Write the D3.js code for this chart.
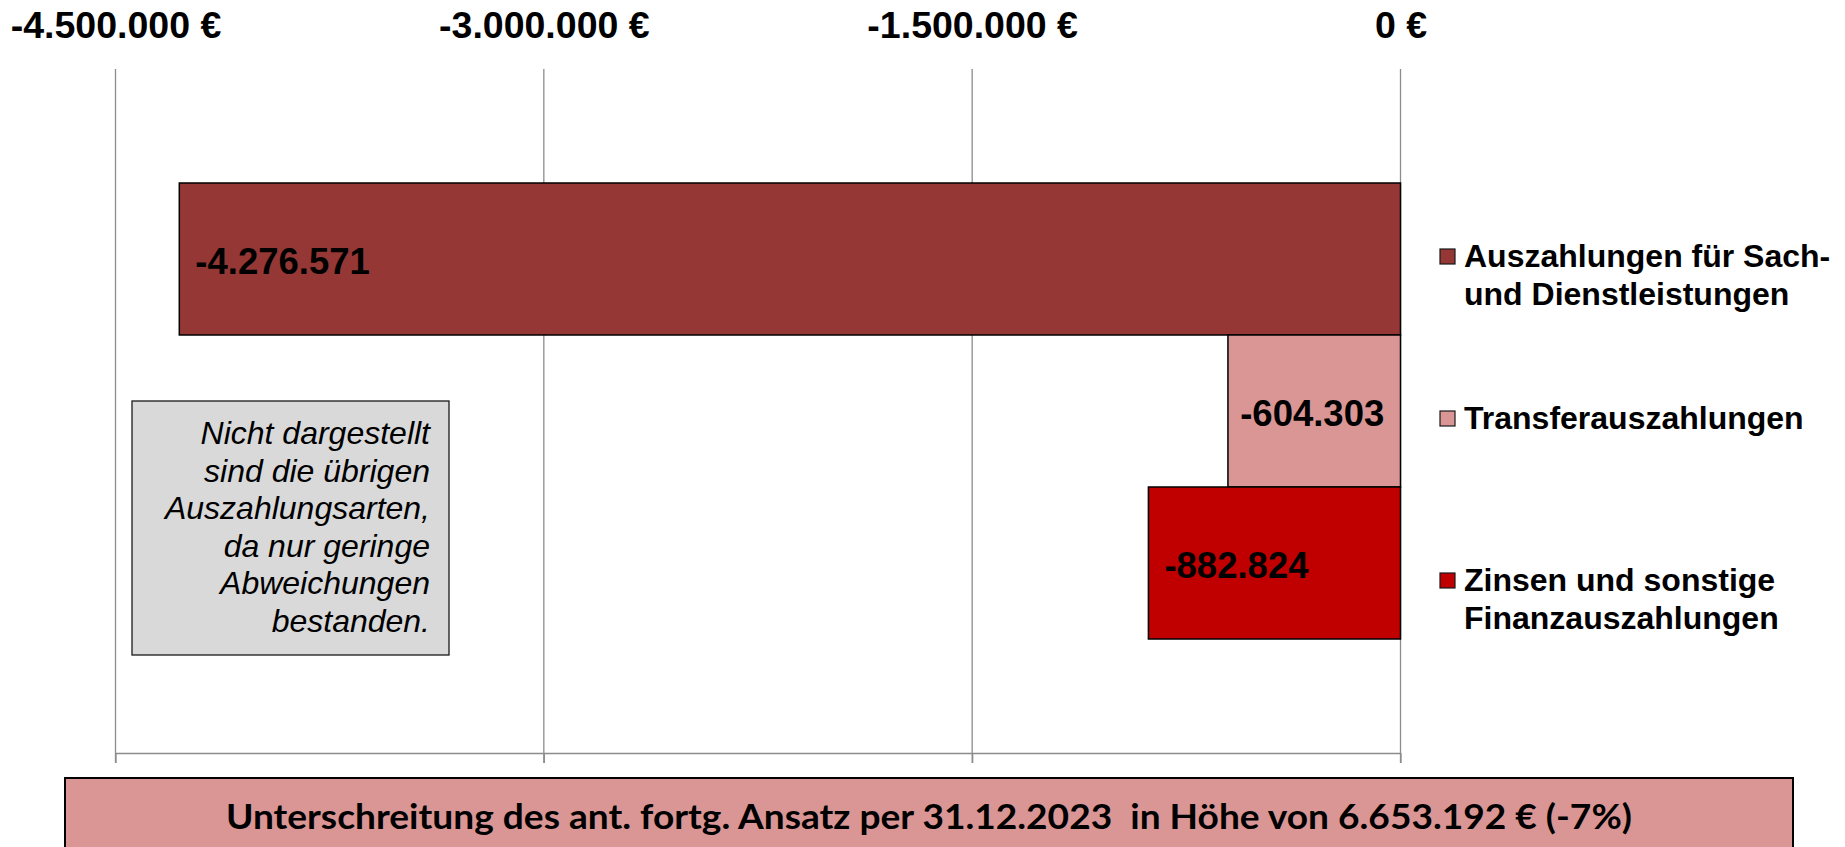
<!DOCTYPE html>
<html>
<head>
<meta charset="utf-8">
<script src="https://cdn.jsdelivr.net/npm/d3@7"></script>
<style>
  body { margin: 0; background: #fff; }
  svg { display: block; }
  .tick-label { font-family: "Liberation Sans", Arial, sans-serif; font-weight: bold; font-size: 37.5px; fill: #000; }
  .bar-label { font-family: "Liberation Sans", Arial, sans-serif; font-weight: bold; font-size: 36.5px; fill: #000; }
  .legend-text { font-family: "Liberation Sans", Arial, sans-serif; font-weight: bold; font-size: 32px; fill: #000; }
  .note-text { font-family: "Liberation Sans", Arial, sans-serif; font-style: italic; font-size: 32px; fill: #000; }
  .footer-text { font-family: Lato, "Open Sans", sans-serif; font-weight: bold; font-size: 34px; fill: #000; white-space: pre; }
</style>
</head>
<body>
<div id="chart"></div>
<script>
// Chart values
const categories = [
  "Auszahlungen für Sach- und Dienstleistungen",
  "Transferauszahlungen",
  "Zinsen und sonstige Finanzauszahlungen"
];
const values = [-4276571, -604303, -882824];
const legendLines = [
  ["Auszahlungen für Sach-", "und Dienstleistungen"],
  ["Transferauszahlungen"],
  ["Zinsen und sonstige", "Finanzauszahlungen"]
];
const barColors = ["#953735", "#D99694", "#C00000"];
const tickValues = [-4500000, -3000000, -1500000, 0];
const noteLines = [
  "Nicht dargestellt",
  "sind die übrigen",
  "Auszahlungsarten,",
  "da nur geringe",
  "Abweichungen",
  "bestanden."
];
const footerText = "Unterschreitung des ant. fortg. Ansatz per 31.12.2023  in Höhe von 6.653.192 € (-7%)";

class BarVis {
  constructor(_parentElement) {
    this.parentElement = _parentElement;

    // German number format: 4.500.000 with an ascii minus
    this.locale = d3.formatLocale({
      decimal: ",",
      thousands: ".",
      grouping: [3],
      currency: ["", " €"],
      minus: "-"
    });
    this.numberFormat = this.locale.format(",.0f");

    this.initVis();
  }

  initVis() {
    let vis = this;

    vis.width = 1845;
    vis.height = 847;

    // plot area (axis at the bottom, tick labels at the top)
    vis.plot = { left: 115.5, right: 1400.5, top: 69, bottom: 753 };

    vis.svg = d3
      .select("#" + vis.parentElement)
      .append("svg")
      .attr("width", vis.width)
      .attr("height", vis.height);

    // Scales
    vis.x = d3
      .scaleLinear()
      .domain([tickValues[0], tickValues[tickValues.length - 1]])
      .range([vis.plot.left, vis.plot.right]);

    vis.y = d3
      .scaleBand()
      .domain(categories)
      .range([vis.plot.top, vis.plot.bottom])
      .paddingInner(0)
      .paddingOuter(0.75);

    vis.color = d3.scaleOrdinal().domain(categories).range(barColors);

    vis.wrangleData();
  }

  wrangleData() {
    let vis = this;

    vis.displayData = categories.map(function (c, i) {
      return { category: c, value: values[i], lines: legendLines[i] };
    });

    vis.updateVis();
  }

  updateVis() {
    let vis = this;

    // Gridlines, running a bit below the axis line like tick marks
    vis.svg
      .append("g")
      .attr("class", "grid")
      .selectAll("line")
      .data(tickValues)
      .join("line")
      .attr("x1", (d) => vis.x(d))
      .attr("x2", (d) => vis.x(d))
      .attr("y1", vis.plot.top)
      .attr("y2", vis.plot.bottom + 10)
      .attr("stroke", "#8c8c8c")
      .attr("stroke-width", 1.3);

    // Bottom axis line only (no labels)
    let xAxisBottom = d3
      .axisBottom(vis.x)
      .tickValues(tickValues)
      .tickSize(10)
      .tickSizeOuter(0)
      .tickFormat("");

    vis.svg
      .append("g")
      .attr("class", "x-axis-bottom")
      .attr("transform", "translate(0," + vis.plot.bottom + ")")
      .call(xAxisBottom)
      .call((g) => g.selectAll("path, line").attr("stroke", "#8c8c8c").attr("stroke-width", 1.3));

    // Tick labels on top
    let xAxisTop = d3
      .axisTop(vis.x)
      .tickValues(tickValues)
      .tickSize(0)
      .tickPadding(0)
      .tickFormat((d) => vis.numberFormat(d) + " €");

    vis.svg
      .append("g")
      .attr("class", "x-axis-top")
      .attr("transform", "translate(0,37.5)")
      .call(xAxisTop)
      .call((g) => g.select(".domain").remove())
      .call((g) =>
        g
          .selectAll("text")
          .attr("class", "tick-label")
          .attr("dy", 0)
          .attr("y", 0)
          .attr("font-size", null)
          .attr("font-family", null)
      );

    // Bars
    vis.svg
      .append("g")
      .attr("class", "bars")
      .selectAll("rect")
      .data(vis.displayData)
      .join("rect")
      .attr("x", (d) => vis.x(Math.min(0, d.value)))
      .attr("y", (d) => vis.y(d.category))
      .attr("width", (d) => Math.abs(vis.x(d.value) - vis.x(0)))
      .attr("height", vis.y.bandwidth())
      .attr("fill", (d) => vis.color(d.category))
      .attr("stroke", "#000")
      .attr("stroke-width", 1.5);

    // Value labels: at the bar end, the middle one centred
    let labelAlign = ["start", "middle", "start"];
    vis.svg
      .append("g")
      .attr("class", "bar-labels")
      .selectAll("text")
      .data(vis.displayData)
      .join("text")
      .attr("class", "bar-label")
      .attr("x", function (d, i) {
        if (labelAlign[i] === "middle") return (vis.x(d.value) + vis.x(0)) / 2 - 2;
        return vis.x(d.value) + 16;
      })
      .attr("y", (d) => vis.y(d.category) + vis.y.bandwidth() / 2)
      .attr("dy", "0.4em")
      .attr("text-anchor", (d, i) => labelAlign[i])
      .text((d) => vis.numberFormat(d.value));

    // Legend
    let legendStep = 162;
    let legend = vis.svg
      .append("g")
      .attr("class", "legend")
      .attr("transform", "translate(1440,267)");

    let items = legend
      .selectAll("g")
      .data(vis.displayData)
      .join("g")
      .attr("transform", (d, i) => "translate(0," + i * legendStep + ")");

    items
      .append("rect")
      .attr("x", 0)
      .attr("y", -18)
      .attr("width", 15)
      .attr("height", 15)
      .attr("fill", (d) => vis.color(d.category))
      .attr("stroke", "#1a1a1a")
      .attr("stroke-width", 1.2);

    items
      .append("text")
      .attr("class", "legend-text")
      .selectAll("tspan")
      .data((d) => d.lines)
      .join("tspan")
      .attr("x", 24)
      .attr("y", (d, i) => i * 38)
      .text((d) => d);

    // Note box on the left
    let note = vis.svg.append("g").attr("class", "note");
    note
      .append("rect")
      .attr("x", 132)
      .attr("y", 401)
      .attr("width", 317)
      .attr("height", 254)
      .attr("fill", "#d9d9d9")
      .attr("stroke", "#1a1a1a")
      .attr("stroke-width", 1.3);

    note
      .append("text")
      .attr("class", "note-text")
      .attr("text-anchor", "end")
      .selectAll("tspan")
      .data(noteLines)
      .join("tspan")
      .attr("x", 430)
      .attr("y", (d, i) => 444 + i * 37.6)
      .text((d) => d);

    // Footer box
    let footer = vis.svg.append("g").attr("class", "footer");
    footer
      .append("rect")
      .attr("x", 65)
      .attr("y", 778)
      .attr("width", 1728)
      .attr("height", 100)
      .attr("fill", "#D99694")
      .attr("stroke", "#000")
      .attr("stroke-width", 2);

    footer
      .append("text")
      .attr("class", "footer-text")
      .attr("x", 929)
      .attr("y", 829)
      .attr("text-anchor", "middle")
      .attr("textLength", 1406)
      .attr("lengthAdjust", "spacingAndGlyphs")
      .text(footerText);
  }
}

new BarVis("chart");
</script>
</body>
</html>
